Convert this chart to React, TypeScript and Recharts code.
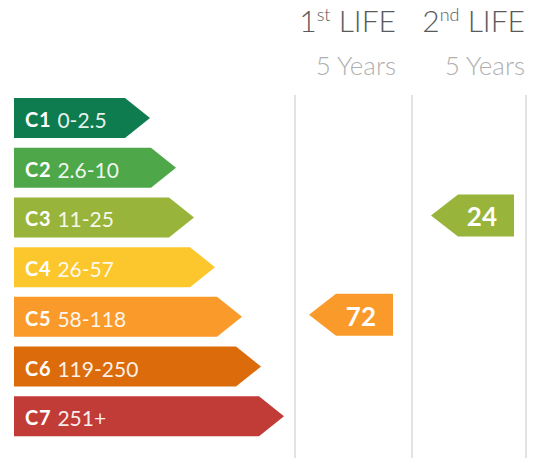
import React from 'react';
import { BarChart, Bar, XAxis, YAxis } from 'recharts';

// energy classes, top to bottom
const classes = ['C1', 'C2', 'C3', 'C4', 'C5', 'C6', 'C7'];
const ranges = ['0-2.5', '2.6-10', '11-25', '26-57', '58-118', '119-250', '251+'];
// arrow length of each class band
const bandLength = [136, 162, 180, 201, 228, 247, 270];
const bandColors = ['#0f7c50', '#4ea84a', '#98b43a', '#fcc72d', '#fa9a2a', '#dc6b0c', '#c13b37'];

// rating per life stage
const lives = ['1st', '2nd'];
const lifeYears = ['5 Years', '5 Years'];
const lifeClass = ['C5', 'C3'];
const lifeValue = [72, 24];

const FONT = 'Lato, "Open Sans", sans-serif';
const TOP = 93;
const BOTTOM = 19;

const bandData = classes.map((c, i) => ({
    cls: c,
    range: ranges[i],
    length: bandLength[i],
    color: bandColors[i],
}));

const BandShape = (props: any) => {
    const { x, y, width, height, payload } = props;
    const tip = 25;
    const d = `M${x},${y} H${x + width - tip} L${x + width},${y + height / 2} L${x + width - tip},${y + height} H${x} Z`;
    return (
        <g>
            <path d={d} fill={payload.color} />
            <text x={x + 11} y={y + height / 2 + 1} dominantBaseline="central" fill="#fff" fontFamily={FONT}>
                <tspan fontWeight={700} fontSize={20} letterSpacing={0.8}>{payload.cls}</tspan>
                <tspan dx={6} fontWeight={400} fontSize={21} fillOpacity={0.92}>{payload.range}</tspan>
            </text>
        </g>
    );
};

const MarkerShape = (props: any) => {
    const { x, y, width, height, payload } = props;
    if (!payload.marker) return null;
    const tip = 27;
    const top = y - 3;
    const h = height + 2;
    const d = `M${x},${top + h / 2} L${x + tip},${top} H${x + width} V${top + h} H${x + tip} Z`;
    return (
        <g>
            <path d={d} fill={payload.color} />
            <text x={x + width - 17} y={top + h / 2 + 1} dominantBaseline="central" textAnchor="end" fill="#fff" fontSize={26} fontWeight={700} fontFamily={FONT}>
                {payload.value}
            </text>
        </g>
    );
};

const LifeColumn: React.FC<{ idx: number; left: number; width: number; ml: number; mr: number }> = ({ idx, left, width, ml, mr }) => {
    const data = classes.map((c, i) => ({
        cls: c,
        marker: c === lifeClass[idx] ? 1 : 0,
        value: lifeValue[idx],
        color: bandColors[i],
    }));
    return (
        <div style={{ position: 'absolute', left, top: 0 }}>
            <BarChart layout="vertical" width={width} height={460} data={data} margin={{ top: TOP, bottom: BOTTOM, left: ml, right: mr }} barCategoryGap={5}>
                <XAxis type="number" domain={[0, 1]} hide />
                <YAxis type="category" dataKey="cls" hide />
                <Bar dataKey="marker" barSize={40} shape={<MarkerShape />} isAnimationActive={false} />
            </BarChart>
        </div>
    );
};

const Header: React.FC<{ idx: number; right: number }> = ({ idx, right }) => (
    <div style={{ position: 'absolute', right: 539 - right, top: 0, textAlign: 'right', fontFamily: FONT, whiteSpace: 'nowrap' }}>
        <div style={{ fontSize: 30, fontWeight: 300, color: '#5a5a5a', lineHeight: '40px' }}>
            {lives[idx].slice(0, 1)}
            <sup style={{ fontSize: 18, verticalAlign: 'top', lineHeight: '28px' }}>{lives[idx].slice(1)}</sup> LIFE
        </div>
        <div style={{ fontSize: 26, fontWeight: 300, color: '#b0b0b0', marginTop: 11, lineHeight: '28px' }}>{lifeYears[idx]}</div>
    </div>
);

const VLine: React.FC<{ x: number }> = ({ x }) => (
    <div style={{ position: 'absolute', left: x, top: 95, width: 2, height: 363, background: '#e3e3e3' }} />
);

export default function App() {
    return (
        <div style={{ position: 'absolute', left: 0, top: 0, width: 539, height: 460, background: '#fff', overflow: 'hidden' }}>
            <VLine x={294} />
            <VLine x={411} />
            <VLine x={525} />
            <div style={{ position: 'absolute', left: 0, top: 0 }}>
                <BarChart layout="vertical" width={290} height={460} data={bandData} margin={{ top: TOP, bottom: BOTTOM, left: 14, right: 0 }} barCategoryGap={5}>
                    <XAxis type="number" domain={[0, 276]} hide />
                    <YAxis type="category" dataKey="cls" hide />
                    <Bar dataKey="length" barSize={40} shape={<BandShape />} isAnimationActive={false} />
                </BarChart>
            </div>
            <LifeColumn idx={0} left={295} width={117} ml={14} mr={19} />
            <LifeColumn idx={1} left={412} width={114} ml={19} mr={12} />
            <Header idx={0} right={396} />
            <Header idx={1} right={525} />
        </div>
    );
}
